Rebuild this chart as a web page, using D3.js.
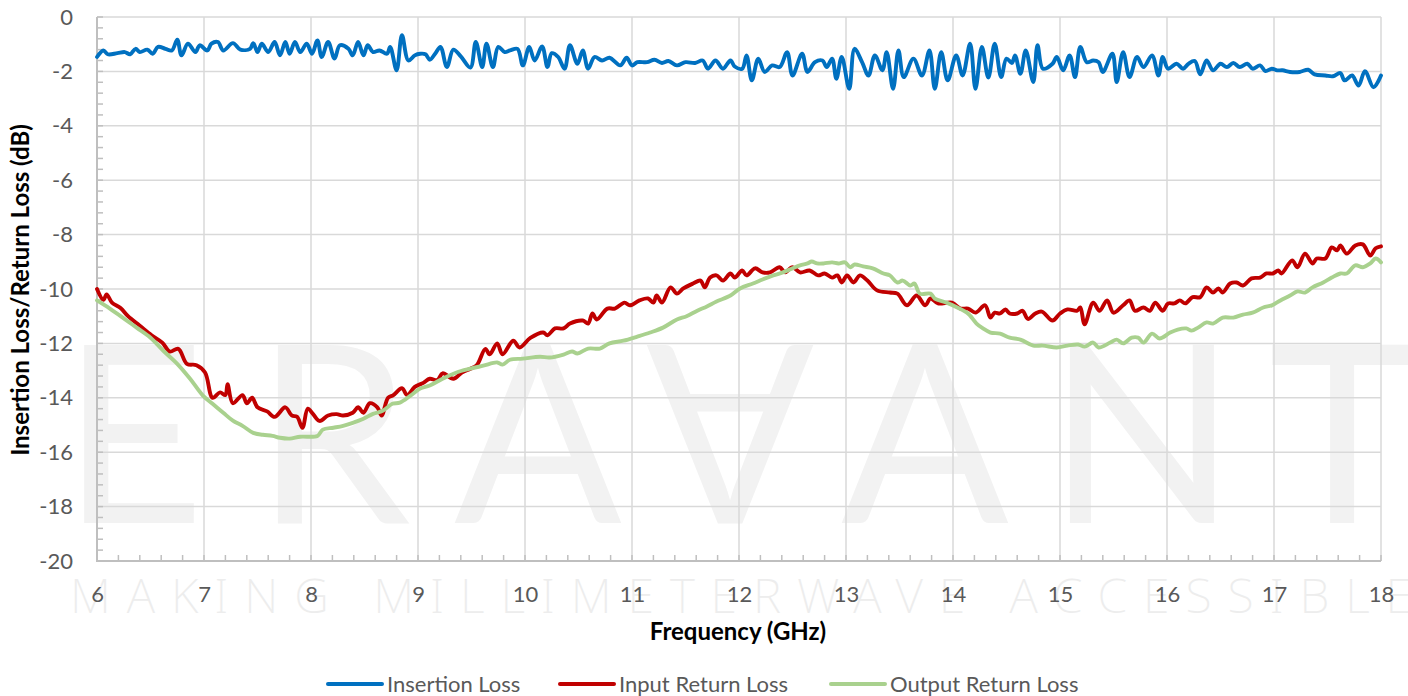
<!DOCTYPE html>
<html><head><meta charset="utf-8">
<script src="https://cdn.jsdelivr.net/npm/d3@7"></script>
<style>body{margin:0;background:#fff}svg{display:block}</style>
</head><body>
<svg id="chart" width="1408" height="696"></svg>
<script>
const xTickValues = [6,7,8,9,10,11,12,13,14,15,16,17,18];
const yTickValues = [0,-2,-4,-6,-8,-10,-12,-14,-16,-18,-20];
const seriesNames = ["Insertion Loss","Input Return Loss","Output Return Loss"];
const xTitle = "Frequency (GHz)";
const yTitle = "Insertion Loss/Return Loss (dB)";

const ilFreq = [6.00,6.06,6.10,6.19,6.26,6.31,6.36,6.40,6.47,6.52,6.57,6.64,6.70,6.75,6.79,6.85,6.92,6.96,7.03,7.07,7.13,7.18,7.27,7.34,7.43,7.46,7.50,7.54,7.60,7.66,7.71,7.76,7.80,7.85,7.90,7.96,8.01,8.06,8.10,8.16,8.22,8.27,8.35,8.39,8.44,8.49,8.53,8.58,8.64,8.71,8.74,8.80,8.85,8.91,8.97,9.02,9.07,9.11,9.16,9.21,9.27,9.33,9.40,9.49,9.54,9.60,9.64,9.70,9.75,9.81,9.86,9.93,9.98,10.04,10.09,10.16,10.21,10.25,10.31,10.37,10.42,10.49,10.54,10.59,10.65,10.72,10.79,10.89,10.95,11.00,11.05,11.14,11.21,11.28,11.34,11.42,11.50,11.59,11.66,11.71,11.78,11.85,11.92,11.96,12.03,12.07,12.12,12.18,12.24,12.31,12.38,12.45,12.50,12.59,12.64,12.71,12.78,12.82,12.87,12.91,12.96,13.03,13.08,13.15,13.21,13.27,13.34,13.38,13.44,13.49,13.54,13.63,13.71,13.78,13.83,13.89,13.95,14.03,14.09,14.16,14.21,14.27,14.33,14.39,14.45,14.50,14.55,14.58,14.63,14.68,14.75,14.79,14.84,14.93,14.97,15.03,15.09,15.14,15.19,15.25,15.31,15.36,15.40,15.49,15.53,15.59,15.65,15.72,15.78,15.86,15.92,15.96,16.01,16.09,16.15,16.20,16.26,16.31,16.37,16.43,16.50,16.56,16.62,16.68,16.75,16.80,16.87,16.92,16.98,17.03,17.08,17.15,17.24,17.32,17.38,17.48,17.55,17.62,17.66,17.73,17.79,17.85,17.93,18.00];
const ilValues = [-1.47,-1.23,-1.37,-1.33,-1.29,-1.37,-1.17,-1.29,-1.20,-1.35,-1.10,-1.17,-1.23,-0.83,-1.41,-0.98,-1.29,-1.04,-1.23,-0.98,-0.92,-1.23,-0.96,-1.20,-1.17,-0.96,-1.29,-0.98,-1.29,-0.92,-1.41,-0.92,-1.35,-0.92,-1.29,-0.98,-1.35,-0.86,-1.47,-0.92,-1.53,-1.04,-1.17,-1.41,-0.92,-1.41,-1.04,-1.29,-1.23,-1.35,-1.10,-1.96,-0.67,-1.60,-1.41,-1.35,-1.37,-1.57,-1.35,-1.10,-1.84,-1.20,-1.45,-1.86,-0.92,-1.84,-0.98,-1.84,-1.10,-1.29,-1.23,-1.17,-1.78,-1.10,-1.60,-1.08,-1.84,-1.33,-1.47,-1.90,-1.04,-1.72,-1.23,-1.90,-1.47,-1.60,-1.50,-1.78,-1.50,-1.78,-1.66,-1.66,-1.57,-1.69,-1.62,-1.78,-1.66,-1.69,-1.60,-1.90,-1.60,-1.90,-1.60,-1.82,-1.90,-1.41,-2.33,-1.53,-2.02,-1.78,-1.84,-1.29,-2.15,-1.35,-2.02,-1.66,-1.60,-1.84,-1.53,-2.27,-1.47,-2.64,-1.17,-1.66,-2.15,-1.41,-1.96,-1.29,-2.64,-1.23,-2.21,-1.53,-2.15,-1.23,-2.64,-1.29,-2.33,-1.41,-2.15,-0.98,-2.64,-1.10,-2.23,-0.98,-2.21,-1.53,-1.69,-1.41,-2.09,-1.23,-2.39,-1.04,-1.90,-1.72,-1.47,-1.96,-1.41,-2.21,-1.10,-1.66,-1.60,-1.66,-2.02,-1.35,-2.39,-1.29,-2.21,-1.47,-1.84,-1.41,-2.15,-1.47,-1.90,-1.72,-1.90,-1.72,-1.62,-2.11,-1.60,-1.96,-1.72,-1.84,-1.69,-1.84,-1.72,-1.90,-1.78,-1.99,-1.90,-1.96,-1.96,-2.02,-2.02,-1.94,-2.11,-2.15,-2.18,-2.06,-2.33,-2.15,-2.52,-1.99,-2.58,-2.15];

const irlFreq = [6.00,6.06,6.09,6.14,6.22,6.29,6.40,6.51,6.61,6.68,6.76,6.84,6.93,7.01,7.08,7.15,7.20,7.22,7.27,7.36,7.40,7.45,7.50,7.59,7.66,7.76,7.82,7.87,7.92,7.97,8.02,8.08,8.16,8.24,8.30,8.39,8.44,8.49,8.55,8.62,8.66,8.72,8.77,8.85,8.90,8.97,9.05,9.11,9.18,9.23,9.33,9.41,9.49,9.55,9.63,9.67,9.74,9.79,9.89,9.95,10.05,10.17,10.21,10.28,10.36,10.42,10.54,10.59,10.63,10.67,10.77,10.84,10.93,10.98,11.07,11.15,11.20,11.23,11.28,11.36,11.42,11.48,11.57,11.64,11.68,11.73,11.79,11.85,11.92,11.96,12.03,12.07,12.15,12.22,12.29,12.38,12.43,12.50,12.57,12.66,12.74,12.80,12.87,12.92,12.96,13.01,13.07,13.13,13.20,13.29,13.41,13.48,13.57,13.66,13.74,13.79,13.86,13.99,14.07,14.14,14.21,14.30,14.35,14.39,14.44,14.49,14.53,14.60,14.65,14.70,14.77,14.83,14.93,15.00,15.07,15.16,15.19,15.23,15.31,15.37,15.44,15.50,15.59,15.65,15.70,15.78,15.84,15.89,15.96,16.01,16.07,16.12,16.17,16.24,16.31,16.37,16.43,16.48,16.52,16.59,16.65,16.71,16.79,16.87,16.93,16.99,17.04,17.07,17.17,17.22,17.29,17.36,17.40,17.48,17.54,17.59,17.62,17.68,17.76,17.83,17.90,17.95,18.00];
const irlValues = [-10.0,-10.4,-10.2,-10.5,-10.7,-11.0,-11.35,-11.7,-11.97,-12.3,-12.2,-12.75,-12.8,-13.07,-14.0,-13.8,-13.9,-13.5,-14.2,-13.9,-14.2,-14.0,-14.35,-14.5,-14.7,-14.35,-14.65,-14.7,-15.1,-14.4,-14.6,-14.85,-14.65,-14.6,-14.65,-14.55,-14.35,-14.55,-14.2,-14.35,-14.65,-14.0,-13.9,-13.65,-13.9,-13.6,-13.45,-13.3,-13.35,-13.1,-13.3,-13.07,-12.93,-12.8,-12.2,-12.4,-12.0,-12.4,-11.9,-12.15,-11.8,-11.6,-11.7,-11.45,-11.45,-11.27,-11.16,-11.27,-10.9,-11.12,-10.72,-10.72,-10.5,-10.6,-10.42,-10.35,-10.5,-10.24,-10.5,-9.94,-10.17,-9.98,-9.8,-9.69,-9.94,-9.58,-9.5,-9.69,-9.43,-9.58,-9.32,-9.5,-9.24,-9.39,-9.39,-9.2,-9.39,-9.2,-9.39,-9.32,-9.5,-9.43,-9.58,-9.5,-9.76,-9.5,-9.76,-9.5,-9.69,-10.05,-10.13,-10.17,-10.6,-10.24,-10.6,-10.35,-10.53,-10.5,-10.72,-10.72,-10.87,-10.6,-11.05,-10.87,-10.9,-10.75,-10.9,-10.9,-10.8,-11.1,-10.9,-10.83,-11.16,-10.9,-10.75,-10.8,-10.68,-11.3,-10.5,-10.8,-10.42,-10.87,-10.6,-10.42,-10.8,-10.68,-10.8,-10.5,-10.8,-10.53,-10.53,-10.42,-10.53,-10.3,-10.3,-9.94,-10.13,-9.98,-10.13,-9.8,-9.76,-9.87,-9.61,-9.58,-9.43,-9.43,-9.32,-9.43,-8.95,-9.2,-8.7,-9.06,-8.88,-8.88,-8.47,-8.58,-8.4,-8.7,-8.4,-8.36,-8.77,-8.5,-8.43];

const orlFreq = [6.00,6.12,6.24,6.37,6.50,6.62,6.75,6.87,6.99,7.08,7.18,7.27,7.36,7.46,7.55,7.64,7.71,7.80,7.90,8.06,8.11,8.21,8.30,8.39,8.49,8.58,8.67,8.76,8.83,8.93,9.02,9.11,9.23,9.36,9.49,9.61,9.74,9.79,9.86,9.98,10.14,10.23,10.36,10.44,10.49,10.59,10.70,10.79,10.92,11.05,11.17,11.29,11.42,11.51,11.61,11.70,11.79,11.92,12.01,12.13,12.22,12.32,12.41,12.50,12.57,12.64,12.68,12.73,12.79,12.87,12.93,12.99,13.04,13.08,13.16,13.25,13.35,13.41,13.48,13.53,13.60,13.64,13.69,13.79,13.83,13.94,14.04,14.13,14.16,14.22,14.28,14.35,14.44,14.53,14.63,14.75,14.84,14.97,15.07,15.17,15.23,15.31,15.36,15.47,15.53,15.59,15.67,15.73,15.78,15.86,15.93,16.03,16.10,16.18,16.23,16.29,16.37,16.43,16.52,16.62,16.71,16.80,16.90,16.98,17.06,17.15,17.22,17.29,17.36,17.46,17.54,17.62,17.68,17.76,17.83,17.90,17.95,18.00];
const orlValues = [-10.42,-10.72,-11.05,-11.42,-11.79,-12.27,-12.75,-13.3,-13.92,-14.22,-14.55,-14.84,-15.03,-15.29,-15.36,-15.4,-15.47,-15.5,-15.43,-15.4,-15.17,-15.1,-15.03,-14.92,-14.77,-14.59,-14.48,-14.22,-14.18,-13.92,-13.66,-13.55,-13.3,-13.07,-12.93,-12.82,-12.7,-12.78,-12.6,-12.56,-12.49,-12.52,-12.41,-12.3,-12.37,-12.19,-12.19,-12.0,-11.9,-11.75,-11.6,-11.42,-11.12,-11.0,-10.8,-10.64,-10.46,-10.24,-9.98,-9.8,-9.65,-9.5,-9.39,-9.24,-9.13,-9.06,-8.99,-9.06,-9.06,-9.02,-9.06,-9.02,-9.2,-9.1,-9.17,-9.24,-9.43,-9.5,-9.76,-9.69,-9.87,-9.8,-10.17,-10.17,-10.35,-10.5,-10.68,-10.87,-10.98,-11.27,-11.45,-11.6,-11.64,-11.79,-11.86,-12.08,-12.08,-12.15,-12.08,-12.04,-12.12,-11.97,-12.15,-11.97,-11.86,-12.0,-11.79,-11.79,-11.97,-11.64,-11.82,-11.6,-11.49,-11.45,-11.53,-11.42,-11.23,-11.27,-11.05,-11.05,-10.94,-10.87,-10.68,-10.6,-10.42,-10.24,-10.09,-10.13,-9.94,-9.76,-9.58,-9.43,-9.43,-9.13,-9.2,-9.06,-8.88,-9.02];

const watermarkWord = ["E","R","A","V","A","N","T"];
const watermarkTagline = "MAKING MILLIMETERWAVE ACCESSIBLE";

const colors = ["#0070C0","#C00000","#A9D18E"];
const series = [
  {name: seriesNames[0], pts: d3.zip(ilFreq, ilValues), color: colors[0]},
  {name: seriesNames[1], pts: d3.zip(irlFreq, irlValues), color: colors[1]},
  {name: seriesNames[2], pts: d3.zip(orlFreq, orlValues), color: colors[2]}
];

const svg = d3.select("#chart");
const L = 97, R = 1381, T = 17, B = 561;
const x = d3.scaleLinear().domain([6,18]).range([L,R]);
const y = d3.scaleLinear().domain([-20,0]).range([B,T]);
const FONT = "Lato, 'Open Sans', sans-serif";

// watermark
const wm = svg.append("g").attr("fill","#f2f2f2").style("font-family",FONT).style("font-size","248px");
const wmCenters = [133, 333, 538, 730, 925, 1142, 1342];
watermarkWord.forEach((ch,i)=>{
  if (ch === "V") {
    wm.append("text").attr("x",wmCenters[i]).attr("y",523).attr("text-anchor","middle")
      .attr("transform",`rotate(180,${wmCenters[i]},434)`).text("A");
  } else {
    wm.append("text").attr("x",wmCenters[i]).attr("y",523).attr("text-anchor","middle").text(ch);
  }
});
svg.append("text").attr("x",70).attr("y",613).attr("fill","#ededed")
  .style("font-family","'Noto Sans', Lato, sans-serif").style("font-weight","200").style("font-size","48px")
  .attr("textLength",1342).attr("lengthAdjust","spacing").text(watermarkTagline);

// gridlines
const grid = svg.append("g").attr("stroke","#d9d9d9").attr("stroke-width",1.5);
grid.selectAll("line.h").data(yTickValues.filter(v=>v>-20)).join("line")
  .attr("x1",L).attr("x2",R).attr("y1",d=>y(d)).attr("y2",d=>y(d));
grid.selectAll("line.v").data(xTickValues.filter(v=>v>6)).join("line")
  .attr("y1",T).attr("y2",B).attr("x1",d=>x(d)).attr("x2",d=>x(d));

// minor ticks
const yMinor = d3.range(0,51).map(i=>-20+i*0.4);
const xMinor = d3.range(0,61).map(i=>6+i*0.2);
const ax = svg.append("g").attr("stroke","#bfbfbf").attr("stroke-width",1.5);
ax.selectAll("line.ym").data(yMinor).join("line")
  .attr("x1",L).attr("x2",L+6).attr("y1",d=>y(d)).attr("y2",d=>y(d));
ax.selectAll("line.xm").data(xMinor).join("line")
  .attr("y1",B).attr("y2",B-6).attr("x1",d=>x(d)).attr("x2",d=>x(d));
ax.append("line").attr("x1",L).attr("x2",L).attr("y1",T).attr("y2",B+1).attr("stroke-width",2);
ax.append("line").attr("x1",L-1).attr("x2",R).attr("y1",B).attr("y2",B).attr("stroke-width",2);

// axis labels via d3 axes
const yAxis = svg.append("g").attr("transform",`translate(${L},0)`)
  .call(d3.axisLeft(y).tickValues(yTickValues).tickSize(0).tickPadding(24).tickFormat(d3.format("d")));
const xAxis = svg.append("g").attr("transform",`translate(0,${B})`)
  .call(d3.axisBottom(x).tickValues(xTickValues).tickSize(0).tickPadding(25).tickFormat(d3.format("d")));
[yAxis,xAxis].forEach(g=>{
  g.select(".domain").remove();
  g.selectAll("text").attr("fill","#595959").style("font-family",FONT).style("font-size","22px");
});
yAxis.selectAll("text").text(d=>d===0?"0":"-"+Math.abs(d));

// series lines
const line = d3.line().x(d=>x(d[0])).y(d=>y(d[1])).curve(d3.curveCatmullRom.alpha(0.5));
svg.append("g").selectAll("path").data(series).join("path")
  .attr("d",d=>line(d.pts)).attr("fill","none").attr("stroke",d=>d.color)
  .attr("stroke-width",3.9).attr("stroke-linejoin","round").attr("stroke-linecap","round");

// titles
svg.append("text").attr("x",738).attr("y",640).attr("text-anchor","middle")
  .style("font-family",FONT).style("font-weight","700").style("font-size","24px").attr("fill","#000").text(xTitle);
svg.append("text").attr("transform","translate(29,290) rotate(-90)").attr("text-anchor","middle")
  .style("font-family",FONT).style("font-weight","700").style("font-size","24px").attr("fill","#000").text(yTitle);

// legend
const legX = [328,560,831];
const leg = svg.append("g");
series.forEach((s,i)=>{
  leg.append("line").attr("x1",legX[i]).attr("x2",legX[i]+54).attr("y1",684).attr("y2",684)
    .attr("stroke",s.color).attr("stroke-width",4).attr("stroke-linecap","round");
  leg.append("text").attr("x",legX[i]+59).attr("y",684).attr("dy","0.35em").attr("fill","#595959")
    .style("font-family",FONT).style("font-size","22px").text(s.name);
});
</script>
</body></html>
